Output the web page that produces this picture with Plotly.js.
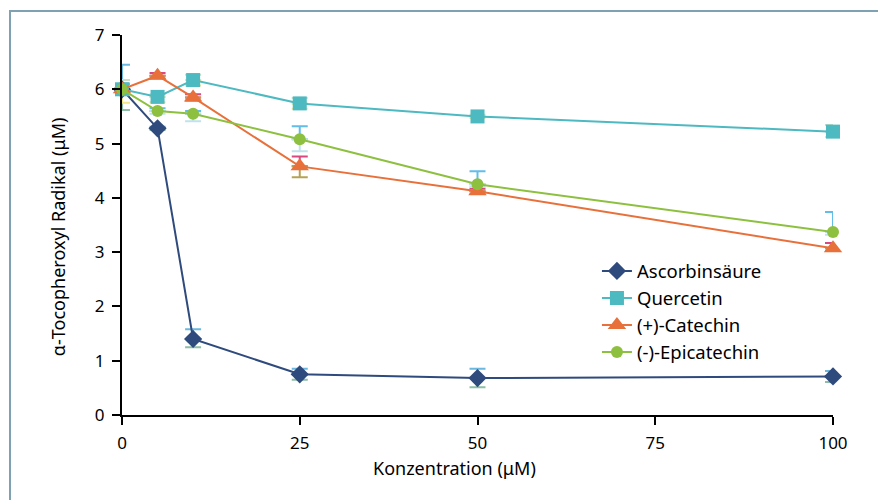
<!DOCTYPE html>
<html><head><meta charset="utf-8">
<script src="https://cdn.plot.ly/plotly-3.0.1.min.js"></script>
<style>
html,body{margin:0;padding:0;background:#fff;}
#wrap{position:relative;width:878px;height:500px;overflow:hidden;}
#frame{position:absolute;left:9px;top:10px;width:900px;height:520px;border-top:2px solid #7fa2b3;border-left:2px solid #7fa2b3;pointer-events:none;}
#chart{position:absolute;left:0;top:0;width:878px;height:500px;}
</style></head>
<body><div id="wrap"><div id="chart"></div><div id="frame"></div></div>
<script>
var conc = [0, 5, 10, 25, 50, 100];
var seriesNames = ["Ascorbinsäure", "Quercetin", "(+)-Catechin", "(-)-Epicatechin"];
var ascorbin    = [6.00, 5.28, 1.40, 0.75, 0.68, 0.71];
var quercetin   = [6.00, 5.86, 6.17, 5.74, 5.50, 5.22];
var catechin    = [6.00, 6.25, 5.85, 4.58, 4.12, 3.07];
var epicatechin = [6.00, 5.60, 5.55, 5.08, 4.25, 3.37];
var ascorbinErrUp    = [0.45, 0.03, 0.18, 0.10, 0.17, 0.10];
var ascorbinErrDown  = [0.38, 0.03, 0.15, 0.10, 0.17, 0.10];
var quercetinErrUp   = [0.17, 0.05, 0.10, 0.10, 0.03, 0.12];
var quercetinErrDown = [0.25, 0.10, 0.10, 0.10, 0.03, 0.10];
var catechinErrUp    = [0.10, 0.05, 0.06, 0.18, 0.05, 0.10];
var catechinErrDown  = [0.10, 0.05, 0.06, 0.20, 0.05, 0.05];
var epiErrUp         = [0.10, 0.05, 0.05, 0.24, 0.24, 0.37];
var epiErrDown       = [0.10, 0.05, 0.14, 0.22, 0.05, 0.05];
var xTitle = "Konzentration (μM)";
var yTitle = "α-Tocopheroxyl Radikal (μM)";

var values = [ascorbin, quercetin, catechin, epicatechin];
var errUp = [ascorbinErrUp, quercetinErrUp, catechinErrUp, epiErrUp];
var errDown = [ascorbinErrDown, quercetinErrDown, catechinErrDown, epiErrDown];
var lineColors = ["#2f4a7c", "#4db9c1", "#e8703a", "#8dc03f"];
var upColors = ["#6ab8e0", "#c9dfc3", "#d9487f", "#62bde8"];
var downColors = ["#8cbfa5", "#f2e58a", "#b5a355", "#bfe2ec"];
var symbols = ["diamond", "square", "triangle-up", "circle"];
var sizes = [14, 14, 16, 12];

var zeros = conc.map(function(){return 0;});
var traces = [];
for (var i = 0; i < 4; i++) {
  traces.push({x: conc, y: values[i], type: "scatter", mode: "none", showlegend: false, hoverinfo: "skip",
    error_y: {type: "data", symmetric: false, array: errUp[i], arrayminus: zeros, color: upColors[i], thickness: 2, width: 8}});
  traces.push({x: conc, y: values[i], type: "scatter", mode: "none", showlegend: false, hoverinfo: "skip",
    error_y: {type: "data", symmetric: false, array: zeros, arrayminus: errDown[i], color: downColors[i], thickness: 2, width: 8}});
}
for (var j = 0; j < 4; j++) {
  traces.push({x: conc, y: values[j], type: "scatter", mode: "lines+markers", name: seriesNames[j],
    legendgroup: "g" + j, cliponaxis: false,
    line: {color: lineColors[j], width: 2},
    marker: {symbol: symbols[j], size: sizes[j], color: lineColors[j]}});
}

var layout = {
  width: 878, height: 500,
  margin: {l: 122, r: 45, t: 35, b: 85},
  paper_bgcolor: "rgba(0,0,0,0)", plot_bgcolor: "rgba(0,0,0,0)",
  font: {family: "Noto Sans, sans-serif", size: 17, color: "#000"},
  showlegend: true,
  legend: {x: 0.668, y: 0.428, xanchor: "left", yanchor: "top", bgcolor: "rgba(0,0,0,0)",
    font: {size: 18.5}, tracegroupgap: 0},
  xaxis: {range: [0, 100], tickvals: [0, 25, 50, 75, 100], ticks: "outside", ticklen: 8, tickwidth: 2,
    tickcolor: "#000", showline: true, linecolor: "#000", linewidth: 2, showgrid: false, zeroline: false,
    tickfont: {size: 17}, ticklabelstandoff: 4},
  yaxis: {range: [0, 7], dtick: 1, ticks: "outside", ticklen: 8, tickwidth: 2,
    tickcolor: "#000", showline: true, linecolor: "#000", linewidth: 2, showgrid: false, zeroline: false,
    tickfont: {size: 17}, ticklabelstandoff: 4},
  annotations: [
    {text: xTitle, xref: "paper", yref: "paper", x: 0.467, y: -0.139, xanchor: "center", yanchor: "middle",
      showarrow: false, font: {size: 18}},
    {text: yTitle, xref: "paper", yref: "paper", x: -0.09, y: 0.468, xanchor: "center", yanchor: "middle",
      textangle: -90, showarrow: false, font: {size: 18}}
  ]
};
Plotly.newPlot("chart", traces, layout, {displayModeBar: false, staticPlot: true});
</script></body></html>
